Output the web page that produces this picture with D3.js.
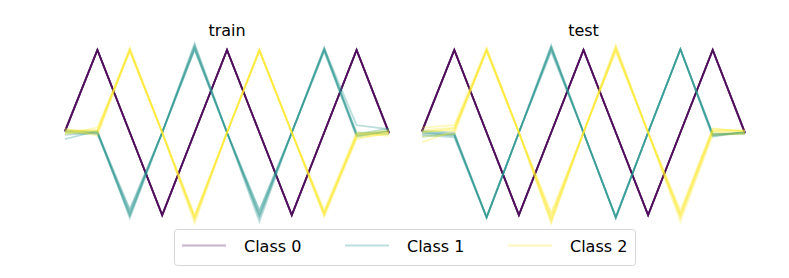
<!DOCTYPE html>
<html>
<head>
<meta charset="utf-8">
<script src="https://cdn.jsdelivr.net/npm/d3@7"></script>
<style>
  html, body { margin: 0; padding: 0; background: #fff; }
  svg { display: block; font-family: "DejaVu Sans", sans-serif; }
</style>
</head>
<body>
<svg id="chart" width="789" height="278"></svg>
<script>
"use strict";

// ---------------------------------------------------------------------------
// Two panels (train / test) of short time series, one line per sample,
// coloured by class with viridis and drawn semi-transparent so that repeated
// samples pile up into darker strokes.
// ---------------------------------------------------------------------------

const panels = ["train", "test"];
const classNames = ["Class 0", "Class 1", "Class 2"];
const classColors = ["#440154", "#21918c", "#fde725"];
const timeSteps = d3.range(11);

// train samples, by class
const trainClass0 = [
  [0.02, 1.00, 0.00, -1.00, 0.00, 1.00, 0.00, -1.00, 0.00, 1.00, -0.01],
  [0.01, 1.00, 0.00, -1.00, 0.00, 1.00, 0.00, -1.00, 0.00, 1.00, 0.00],
  [0.02, 1.00, 0.00, -1.01, 0.00, 1.00, 0.00, -1.01, 0.00, 1.00, -0.01],
  [0.01, 1.00, 0.00, -1.00, 0.00, 1.00, 0.00, -1.00, 0.00, 1.00, 0.00],
  [0.02, 1.00, 0.00, -1.00, 0.00, 1.00, 0.00, -1.00, 0.00, 1.00, -0.01],
  [0.01, 1.00, 0.00, -1.00, 0.00, 1.00, 0.00, -1.00, 0.00, 1.00, 0.00],
  [0.02, 1.00, 0.00, -1.00, 0.00, 1.00, 0.00, -1.00, 0.00, 1.00, -0.01],
  [0.01, 1.00, 0.00, -1.00, 0.00, 1.00, 0.00, -1.00, 0.00, 1.00, 0.00],
];
const trainClass1 = [
  [0.03, 0.00, -0.95, 0.00, 1.06, 0.00, -0.94, 0.00, 1.02, 0.09, 0.04],
  [-0.08, 0.02, -1.04, 0.00, 1.02, 0.00, -1.08, 0.00, 0.98, -0.04, 0.01],
  [0.00, -0.02, -0.98, 0.00, 1.08, 0.00, -1.00, 0.00, 1.00, 0.00, -0.02],
  [0.02, 0.01, -1.00, 0.00, 1.00, 0.00, -0.96, 0.00, 1.03, -0.02, 0.05],
  [-0.03, 0.00, -0.93, 0.00, 1.04, 0.00, -1.03, 0.00, 1.00, -0.05, 0.02],
  [0.01, -0.01, -1.01, 0.00, 1.01, 0.00, -1.01, 0.00, 1.01, -0.03, 0.02],
];
const trainClass2 = [
  [0.05, -0.04, 1.01, 0.00, -1.04, 0.00, 1.00, 0.00, -0.97, -0.06, -0.02],
  [-0.02, 0.06, 0.98, 0.00, -1.10, 0.00, 1.00, 0.00, -1.00, -0.02, 0.03],
  [0.02, 0.02, 1.03, 0.00, -1.00, 0.00, 0.98, 0.00, -0.94, 0.00, -0.04],
  [0.00, -0.01, 1.00, 0.00, -1.06, 0.00, 1.01, 0.00, -1.02, -0.08, 0.00],
  [0.03, 0.03, 0.99, 0.00, -1.02, 0.00, 0.99, 0.00, -0.98, -0.03, 0.01],
  [0.01, 0.01, 1.00, 0.00, -1.03, 0.00, 1.00, 0.00, -0.99, -0.04, 0.00],
];

// test samples, by class
const testClass0 = [
  [0.02, 1.00, 0.00, -1.00, 0.00, 1.00, 0.00, -1.00, 0.00, 1.00, -0.01],
  [0.01, 1.00, 0.00, -1.00, 0.00, 1.00, 0.00, -1.00, 0.00, 1.00, 0.00],
  [0.02, 1.00, 0.00, -1.00, 0.00, 1.00, 0.00, -1.00, 0.00, 1.00, -0.01],
  [0.01, 1.00, 0.00, -1.00, 0.00, 1.00, 0.00, -1.00, 0.00, 1.00, 0.00],
  [0.02, 1.00, 0.00, -1.00, 0.00, 1.00, 0.00, -1.00, 0.00, 1.00, -0.01],
  [0.01, 1.00, 0.00, -1.00, 0.00, 1.00, 0.00, -1.00, 0.00, 1.00, 0.00],
  [0.02, 1.00, 0.00, -1.00, 0.00, 1.00, 0.00, -1.00, 0.00, 1.00, -0.01],
  [0.01, 1.00, 0.00, -1.00, 0.00, 1.00, 0.00, -1.00, 0.00, 1.00, 0.00],
];
const testClass1 = [
  [0.00, -0.04, -1.03, 0.00, 1.06, 0.00, -1.03, 0.00, 1.01, -0.02, -0.01],
  [-0.05, -0.02, -1.03, 0.00, 1.02, 0.00, -1.04, 0.00, 1.01, -0.05, 0.01],
  [0.02, 0.00, -1.03, 0.00, 0.98, 0.00, -1.03, 0.00, 1.01, -0.03, 0.00],
  [-0.03, -0.06, -1.03, 0.00, 1.04, 0.00, -1.02, 0.00, 1.01, -0.01, -0.02],
  [-0.01, -0.03, -1.02, 0.00, 1.00, 0.00, -1.03, 0.00, 1.01, -0.04, 0.00],
  [0.01, -0.02, -1.03, 0.00, 1.03, 0.00, -1.03, 0.00, 1.01, -0.03, 0.00],
];
const testClass2 = [
  [0.06, 0.09, 1.03, 0.00, -1.00, 0.00, 1.06, 0.00, -0.94, 0.05, 0.01],
  [-0.12, 0.02, 1.00, 0.00, -1.10, 0.00, 1.00, 0.00, -1.08, -0.03, -0.02],
  [0.00, 0.05, 0.98, 0.00, -1.05, 0.00, 1.02, 0.00, -1.00, 0.02, 0.03],
  [-0.05, -0.02, 1.01, 0.00, -0.97, 0.00, 0.98, 0.00, -1.03, 0.00, -0.01],
  [0.03, 0.06, 0.99, 0.00, -1.08, 0.00, 1.04, 0.00, -0.98, 0.04, 0.02],
  [0.01, 0.03, 1.00, 0.00, -1.03, 0.00, 1.01, 0.00, -1.01, 0.02, 0.01],
];

const panelData = {
  train: [trainClass0, trainClass1, trainClass2],
  test: [testClass0, testClass1, testClass2],
};

const svg = d3.select("#chart");

// per-panel x ranges (axes are hidden, only the series are drawn)
const xRanges = { train: [65, 389], test: [422, 745] };
const y = d3.scaleLinear().domain([-1, 1]).range([215, 50]);

panels.forEach((name) => {
  const x = d3.scaleLinear().domain([0, 10]).range(xRanges[name]);
  const line = d3.line().x((d, i) => x(timeSteps[i])).y((d) => y(d));
  const g = svg.append("g").attr("class", "panel-" + name);

  g.append("text")
    .attr("x", (xRanges[name][0] + xRanges[name][1]) / 2)
    .attr("y", 36)
    .attr("text-anchor", "middle")
    .attr("font-size", 16)
    .attr("fill", "#000")
    .text(name);

  panelData[name].forEach((samples, c) => {
    g.selectAll(null)
      .data(samples)
      .enter()
      .append("path")
      .attr("d", line)
      .attr("fill", "none")
      .attr("stroke", classColors[c])
      .attr("stroke-opacity", 0.3)
      .attr("stroke-width", 1.8)
      .attr("stroke-linejoin", "miter");
  });
});

// legend: one row, three entries, framed box
const legend = svg.append("g").attr("class", "legend");
legend.append("rect")
  .attr("x", 174.5).attr("y", 229.5)
  .attr("width", 461).attr("height", 36)
  .attr("rx", 3).attr("ry", 3)
  .attr("fill", "#fff").attr("fill-opacity", 0.8)
  .attr("stroke", "#d6d6d6").attr("stroke-width", 1);

const legendX = d3.scalePoint().domain(classNames).range([182, 508]);
classNames.forEach((label, c) => {
  const lx = legendX(label);
  legend.append("line")
    .attr("x1", lx).attr("x2", lx + 44)
    .attr("y1", 245.5).attr("y2", 245.5)
    .attr("stroke", classColors[c])
    .attr("stroke-opacity", 0.3)
    .attr("stroke-width", 1.8);
  legend.append("text")
    .attr("x", lx + 62)
    .attr("y", 252)
    .attr("font-size", 16)
    .attr("fill", "#000")
    .text(label);
});
</script>
</body>
</html>
